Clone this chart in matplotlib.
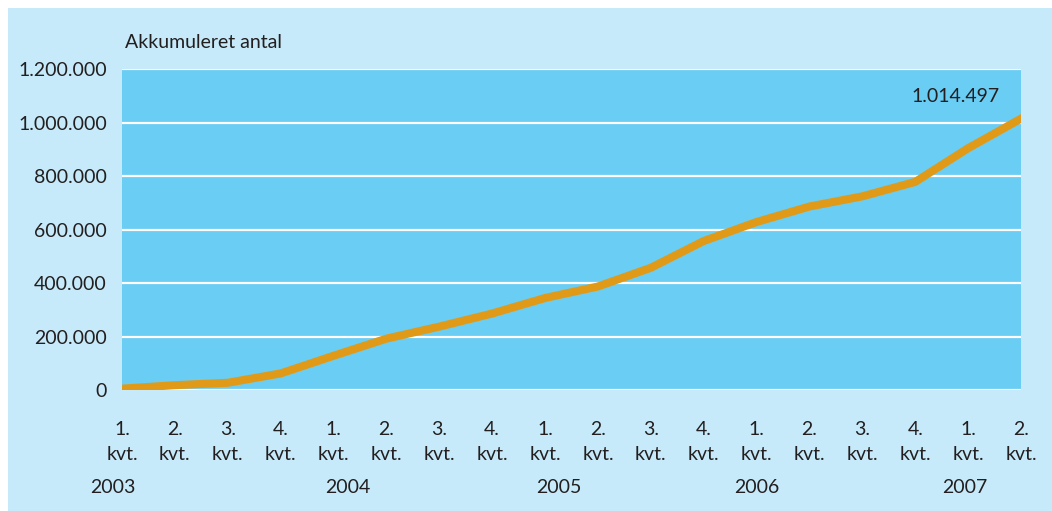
import matplotlib.pyplot as plt
from matplotlib.patches import Rectangle

# Accumulated count per quarter, 2003 Q1 - 2007 Q2
quarters = ["1.", "2.", "3.", "4.", "1.", "2.", "3.", "4.", "1.", "2.",
            "3.", "4.", "1.", "2.", "3.", "4.", "1.", "2."]
values = [5000, 18000, 27000, 62000, 128000, 192000, 237000, 286000, 344000,
          387000, 457000, 557000, 628000, 686000, 724000, 778000, 904000, 1014497]
years = ["2003", "2004", "2005", "2006", "2007"]
year_pos = [-0.17, 4.27, 8.26, 12.01, 15.93]
yticks = [0, 200000, 400000, 600000, 800000, 1000000, 1200000]
end_label = "1.014.497"

outer_bg = "#c6eaf9"
plot_bg = "#69cdf4"
line_col = "#e19a17"
text_col = "#231f20"

plt.rcParams['font.family'] = ['Lato', 'DejaVu Sans']

fig = plt.figure(figsize=(10.52, 5.11), dpi=100)
fig.patches.append(Rectangle((8 / 1052, 0), 1, 1 - 8 / 511, transform=fig.transFigure,
                             facecolor=outer_bg, edgecolor='none', zorder=-1))

ax = fig.add_axes([122 / 1052, 1 - 390 / 511, (1021 - 122) / 1052, (390 - 69) / 511])
ax.set_facecolor(plot_bg)
x = list(range(len(values)))
ax.plot(x, values, color=line_col, lw=5.8, solid_joinstyle='miter', zorder=3)

ax.set_xlim(0, len(values) - 1)
ax.set_ylim(0, 1200000)
ax.set_yticks(yticks)
ax.set_yticklabels([f"{v:,}".replace(",", ".") for v in yticks])
ax.grid(axis='y', color='white', lw=1.6, zorder=1)
ax.set_axisbelow(True)
for s in ax.spines.values():
    s.set_visible(False)

ax.set_xticks(x)
ax.set_xticklabels([q + "\nkvt." for q in quarters], linespacing=1.62)
ax.tick_params(axis='both', length=0, labelsize=14, colors=text_col)
ax.tick_params(axis='y', pad=11)
ax.tick_params(axis='x', pad=22)

trans = ax.get_xaxis_transform()
for yr, p in zip(years, year_pos):
    ax.text(p, -0.305, yr, transform=trans, ha='center', va='center',
            fontsize=14, color=text_col)

fig.text(125 / 1052, 1 - 42 / 511, "Akkumuleret antal", ha='left', va='center',
         fontsize=14, color=text_col)
ax.text(17 - 0.4, values[-1] + 52000, end_label, ha='right', va='bottom',
        fontsize=14, color=text_col)

fig.savefig("out.png", dpi=100)
